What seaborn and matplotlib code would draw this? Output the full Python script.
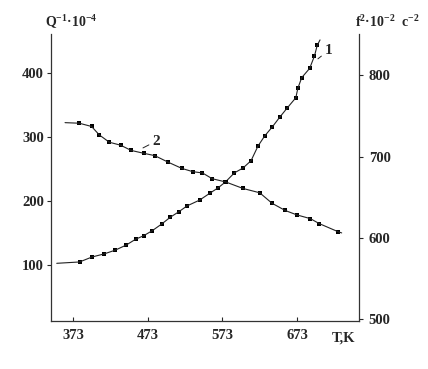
import numpy as np
import pandas as pd
import matplotlib
matplotlib.use("Agg")
import matplotlib.pyplot as plt
import seaborn as sns

# ---------------------------------------------------------
# Data
# ---------------------------------------------------------
# curve 1: internal friction Q^-1 (left axis)
t1 = [351.2, 381.7, 398.4, 414.5, 429.2, 444.0, 456.7, 467.7, 479.2, 491.5,
      503.2, 514.6, 525.7, 542.4, 555.8, 567.6, 577.2, 589.0, 600.7, 611.4,
      620.8, 629.7, 639.9, 649.6, 659.9, 671.4, 674.1, 679.3, 689.9, 696.4,
      700.0, 703.8]
q1 = [101.9, 104.0, 111.8, 116.6, 122.4, 130.4, 139.6, 145.3, 153.2, 163.4,
      174.2, 182.8, 192.0, 201.1, 211.6, 220.7, 229.7, 243.8, 251.6, 263.0,
      286.2, 301.9, 316.1, 331.0, 345.9, 361.9, 376.8, 393.5, 408.0, 427.6,
      444.1, 452.7]

# curve 2: squared frequency f^2 (right axis)
t2 = [362.3, 381.4, 397.8, 408.2, 421.6, 436.6, 450.9, 467.7, 482.5, 500.5,
      519.0, 533.3, 546.4, 559.4, 577.5, 600.7, 623.0, 639.5, 657.2, 673.0,
      690.8, 702.9, 728.2, 732.8]
f2 = [741.9, 741.2, 737.2, 726.8, 717.8, 714.2, 707.7, 704.2, 701.3, 693.2,
      685.5, 681.6, 680.0, 672.9, 668.9, 660.9, 655.6, 642.7, 633.8, 628.3,
      623.8, 617.6, 607.6, 606.2]

x_ticks = [373, 473, 573, 673]
left_ticks = [100, 200, 300, 400]
right_ticks = [500, 600, 700, 800]

df1 = pd.DataFrame({"T": t1, "Q": q1})
df2 = pd.DataFrame({"T": t2, "F": f2})

# ---------------------------------------------------------
# Style
# ---------------------------------------------------------
sns.set_style("ticks")
plt.rcParams["font.family"] = ["Liberation Serif", "DejaVu Serif"]
plt.rcParams["font.weight"] = "bold"
plt.rcParams["mathtext.fontset"] = "custom"
plt.rcParams["mathtext.rm"] = "Liberation Serif:bold"
plt.rcParams["mathtext.it"] = "Liberation Serif:bold"
plt.rcParams["mathtext.bf"] = "Liberation Serif:bold"

fig = plt.figure(figsize=(4.28, 3.69), dpi=100)
ax = fig.add_axes([51 / 428, 48 / 369, 308 / 428, 287 / 369])
ax2 = ax.twinx()

line_kw = dict(color="#222222", linewidth=0.8)
mark_kw = dict(marker="s", s=12, color="black", edgecolor="black", linewidth=0)

# curve 1 on left axis (markers not on the line ends)
sns.lineplot(data=df1, x="T", y="Q", ax=ax, **line_kw)
sns.scatterplot(data=df1.iloc[1:-1], x="T", y="Q", ax=ax, **mark_kw)

# curve 2 on right axis
sns.lineplot(data=df2, x="T", y="F", ax=ax2, **line_kw)
sns.scatterplot(data=df2.iloc[1:-1], x="T", y="F", ax=ax2, **mark_kw)

ax.set_xlim(343.5, 756)
ax.set_ylim(11.3, 462)
ax2.set_ylim(497.8, 851)

ax.set_xticks(x_ticks)
ax.set_yticks(left_ticks)
ax2.set_yticks(right_ticks)
ax.set_xlabel("")
ax.set_ylabel("")
ax2.set_ylabel("")

for a in (ax, ax2):
    a.spines["top"].set_visible(False)
    for s in a.spines.values():
        s.set_linewidth(0.9)
        s.set_color("#333333")
ax.spines["right"].set_visible(False)
ax2.spines["left"].set_visible(False)
ax2.spines["bottom"].set_visible(False)

ax.tick_params(axis="x", direction="in", length=3, width=0.8, pad=6,
               labelsize=10.5)
ax.tick_params(axis="y", direction="out", length=3, width=0.8, pad=2,
               labelsize=10.5)
ax2.tick_params(axis="y", direction="out", length=3, width=0.8, pad=4,
                labelsize=10.5)
for lab in ax.get_xticklabels() + ax.get_yticklabels() + ax2.get_yticklabels():
    lab.set_fontweight("bold")

# curve labels with leader lines
ax.annotate("1", xy=(701, 423), xytext=(710, 426), fontsize=11,
            fontweight="bold", va="bottom", ha="left",
            arrowprops=dict(arrowstyle="-", color="#222222", lw=0.7,
                            shrinkA=0, shrinkB=0))
ax2.annotate("2", xy=(466.7, 710.8), xytext=(479, 711), fontsize=11,
             fontweight="bold", va="bottom", ha="left",
             arrowprops=dict(arrowstyle="-", color="#222222", lw=0.7,
                             shrinkA=0, shrinkB=0))

# axis titles
fig.text(45 / 428, 1 - 27 / 369, r"Q$^{-1}$·10$^{-4}$", fontsize=10,
         fontweight="bold", ha="left", va="baseline")
fig.text(355 / 428, 1 - 27 / 369, r"f$^{2}$·10$^{-2}$  с$^{-2}$",
         fontsize=10, fontweight="bold", ha="left", va="baseline")
fig.text(344 / 428, 1 - 338 / 369, "T,K", fontsize=10.5,
         fontweight="bold", ha="center", va="center")

fig.savefig("out.png", dpi=100)
